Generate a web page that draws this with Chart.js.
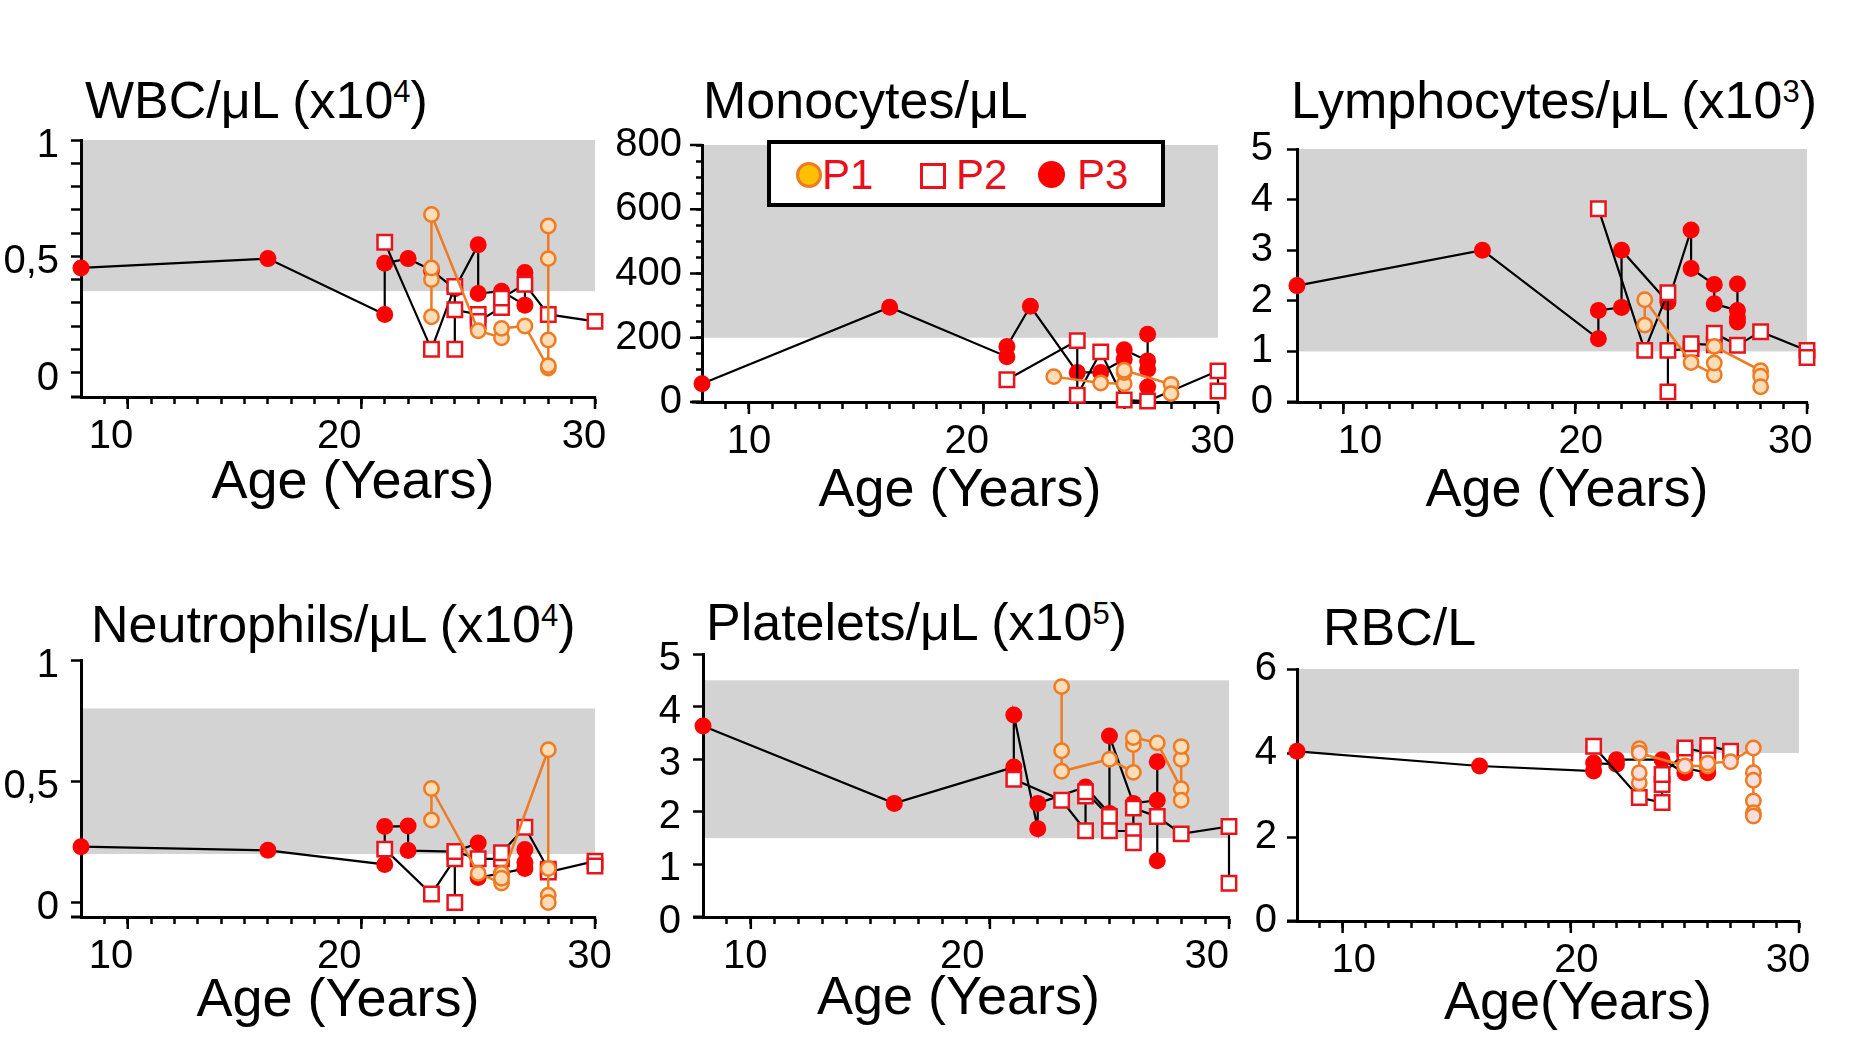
<!DOCTYPE html>
<html><head><meta charset="utf-8">
<script src="https://cdn.jsdelivr.net/npm/chart.js@4.4.0/dist/chart.umd.min.js"></script>
<style>
html,body{margin:0;padding:0;background:#fff;}
body{width:1857px;height:1047px;position:relative;overflow:hidden;font-family:'Liberation Sans',Arial,sans-serif;}
canvas{position:absolute;}
.ttl{position:absolute;font-size:52px;line-height:52px;color:#000;white-space:nowrap;}
.ttl .sp{font-size:31px;line-height:0;vertical-align:16px;}
#legend{position:absolute;left:767px;top:140px;width:398px;height:67px;box-sizing:border-box;border:4px solid #000;background:#fff;}
#legend .m{position:absolute;box-sizing:border-box;}
#legend .t{position:absolute;top:10px;font-size:42px;line-height:42px;color:#E8101A;}
</style></head><body>

<div class="ttl" style="left:85px;top:74px">WBC/μL (x10<span class="sp">4</span>)</div>
<div class="ttl" style="left:703px;top:74px">Monocytes/μL</div>
<div class="ttl" style="left:1291px;top:74px">Lymphocytes/μL (x10<span class="sp">3</span>)</div>
<div class="ttl" style="left:91px;top:598px">Neutrophils/μL (x10<span class="sp">4</span>)</div>
<div class="ttl" style="left:706px;top:596px">Platelets/μL (x10<span class="sp">5</span>)</div>
<div class="ttl" style="left:1323px;top:601px">RBC/L</div>

<canvas id="c1"></canvas><canvas id="c2"></canvas><canvas id="c3"></canvas>
<canvas id="c4"></canvas><canvas id="c5"></canvas><canvas id="c6"></canvas>

<div id="legend">
  <div class="m" style="left:25px;top:18px;width:26px;height:26px;border:3px solid #F07A22;background:#FFC000;border-radius:50%"></div>
  <div class="t" style="left:51px">P1</div>
  <div class="m" style="left:149px;top:19px;width:26px;height:26px;border:3px solid #E8141C;background:#fff"></div>
  <div class="t" style="left:185px">P2</div>
  <div class="m" style="left:267px;top:17px;width:27px;height:27px;background:#FF0000;border-radius:50%"></div>
  <div class="t" style="left:306px">P3</div>
</div>

<script>
// ---------- DATA ----------
const ageTicks = [9,10,11,12,13,14,15,16,17,18,19,20,21,22,23,24,25,26,27,28,29,30];
const ageLabels = ['','10','','','','','','','','','','20','','','','','','','','','','30'];

// WBC/uL (x10^4)
const wbcP1Age = [23,23,23,23,25,26,26,27,28,28,28,28,28];
const wbcP1    = [0.24,0.40,0.45,0.68,0.18,0.15,0.19,0.20,0.02,0.03,0.14,0.49,0.63];
const wbcP2Age = [21,23,24,24,24,25,25,26,26,27,28,30];
const wbcP2    = [0.56,0.10,0.37,0.10,0.27,0.25,0.22,0.28,0.32,0.38,0.25,0.22];
const wbcP3Age = [8,16,21,21,22,23,24,25,25,26,27,27];
const wbcP3    = [0.45,0.49,0.25,0.47,0.49,0.44,0.36,0.55,0.34,0.35,0.29,0.43];
const wbcRange = [0.35,1];
const wbcYTicks  = [0,0.1,0.2,0.3,0.4,0.5,0.6,0.7,0.8,0.9,1];
const wbcYLabels = ['0','','','','','0,5','','','','','1'];

// Monocytes/uL
const monoP1Age = [23,25,26,26,26,28,28];
const monoP1    = [79,59,57,92,99,55,26];
const monoP2Age = [21,24,24,25,26,27,30,30];
const monoP2    = [69,191,21,156,6,3,97,34];
const monoP3Age = [8,16,21,21,22,24,25,26,26,27,27,27,27];
const monoP3    = [57,295,141,173,298,92,92,133,163,128,211,102,47];
const monoRange = [200,800];
const monoYTicks  = [0,50,100,150,200,250,300,350,400,450,500,550,600,650,700,750,800];
const monoYLabels = ['0','','','','200','','','','400','','','','600','','','','800'];

// Lymphocytes/uL (x10^3)
const lymP1Age = [23,23,25,26,26,26,28,28,28];
const lymP1    = [1.52,2.02,0.78,0.54,0.77,1.10,0.62,0.51,0.30];
const lymP2Age = [21,23,24,24,24,25,25,26,26,27,28,30,30];
const lymP2    = [3.82,1.02,2.16,0.20,1.02,1.05,1.15,1.13,1.36,1.12,1.39,1.02,0.88];
const lymP3Age = [8,16,21,21,22,22,24,25,25,26,26,27,27,27,27];
const lymP3    = [2.30,3.00,1.25,1.81,1.87,3.00,1.97,3.40,2.64,2.32,1.94,1.81,1.58,1.66,2.33];
const lymRange = [1,5];
const lymYTicks  = [0,1,2,3,4,5];
const lymYLabels = ['0','1','2','3','4','5'];

// Neutrophils/uL (x10^4)
const neuP1Age = [23,23,25,26,26,26,28,28,28,28];
const neuP1    = [0.34,0.47,0.12,0.08,0.12,0.10,0.63,0.14,0.03,0.0];
const neuP2Age = [21,23,24,24,24,25,26,26,27,28,28,30,30];
const neuP2    = [0.22,0.035,0.18,0.0,0.21,0.18,0.18,0.205,0.31,0.137,0.125,0.17,0.15];
const neuP3Age = [8,16,21,21,22,22,24,25,25,26,27,27,27];
const neuP3    = [0.23,0.215,0.157,0.313,0.315,0.214,0.21,0.245,0.103,0.12,0.14,0.165,0.218];
const neuRange = [0.2,0.8];
const neuYTicks  = [0,0.5,1];
const neuYLabels = ['0','0,5','1'];

// Platelets/uL (x10^5)
const pltP1Age = [23,23,23,25,26,26,26,27,28,28,28,28];
const pltP1    = [4.38,3.16,2.77,3.00,2.75,3.28,3.41,3.31,2.44,2.22,3.00,3.24];
const pltP2Age = [21,23,24,24,24,25,25,26,26,26,27,28,30,30];
const pltP2    = [2.62,2.22,1.64,2.30,2.38,1.91,1.64,1.63,1.41,2.07,1.91,1.58,1.72,0.64];
const pltP3Age = [8,16,21,21,22,22,24,25,25,26,27,27,27];
const pltP3    = [3.63,2.16,2.85,3.84,1.68,2.16,2.47,1.97,3.44,2.16,2.22,2.95,1.07];
const pltRange = [1.5,4.5];
const pltYTicks  = [0,1,2,3,4,5];
const pltYLabels = ['0','1','2','3','4','5'];

// RBC/L
const rbcP1Age = [23,23,23,23,25,26,26,27,28,28,28,28,28,28];
const rbcP1    = [3.29,3.53,4.10,4.00,3.69,3.69,3.76,3.79,4.12,3.53,3.35,2.86,2.58,2.50];
const rbcP2Age = [21,23,24,24,24,25,25,26,26,27];
const rbcP2    = [4.16,2.94,2.82,3.25,3.49,4.00,4.12,4.00,4.18,4.04];
const rbcP3Age = [8,16,21,21,22,22,24,25,25,26,26];
const rbcP3    = [4.04,3.69,3.57,3.76,3.73,3.84,3.84,3.53,3.64,3.53,3.64];
const rbcRange = [4,6];
const rbcYTicks  = [0,2,4,6];
const rbcYLabels = ['0','2','4','6'];

// ---------- RENDERING ----------
Chart.defaults.font.family = "'Liberation Sans', Arial, sans-serif";
Chart.defaults.color = '#000';

const RED = '#FF0000', SQRED = '#E8141C', ORANGE = '#F07A22';

function pts(xs, ys){ return xs.map((x, i) => ({x: x, y: ys[i]})); }

const bandPlugin = {
  id: 'band',
  beforeDraw(chart, args, o){
    const {ctx, scales:{x, y}} = chart;
    const x0 = x.getPixelForValue(x.min), x1 = x.getPixelForValue(o.xEnd);
    const y0 = y.getPixelForValue(o.range[1]), y1 = y.getPixelForValue(o.range[0]);
    ctx.save(); ctx.fillStyle = '#D3D3D3'; ctx.fillRect(x0, y0, x1 - x0, y1 - y0); ctx.restore();
  }
};
const majorPlugin = {
  id: 'majorTicks',
  afterDraw(chart, args, o){
    const {ctx, scales:{x, y}, chartArea:a} = chart;
    ctx.save(); ctx.strokeStyle = '#000'; ctx.lineWidth = 2.5; ctx.beginPath();
    o.x.forEach(v => { const p = x.getPixelForValue(v); ctx.moveTo(p, a.bottom); ctx.lineTo(p, a.bottom + o.xLen); });
    (o.y || []).forEach(v => { const p = y.getPixelForValue(v); ctx.moveTo(a.left, p); ctx.lineTo(a.left - o.yLen, p); });
    ctx.stroke();
    ctx.lineWidth = 3; ctx.beginPath();
    ctx.moveTo(a.left - o.axisExt, a.bottom); ctx.lineTo(a.left, a.bottom); ctx.stroke();
    ctx.restore();
  }
};

// label nudge: number of spaces (negative = trailing, shifts left; positive = leading, shifts right)
function nudge(s, k){ return k < 0 ? s + ' '.repeat(-k) : ' '.repeat(k) + s; }

function makePanel(p){
  const cv = document.getElementById(p.id);
  const padTop = 32, padRight = 64;
  const w = p.W + (p.R - p.L) + padRight;
  const h = padTop + (p.B - p.T) + p.H;
  cv.width = w; cv.height = h;
  cv.style.left = (p.L - p.W) + 'px'; cv.style.top = (p.T - padTop) + 'px';
  cv.style.width = w + 'px'; cv.style.height = h + 'px';
  const common = {showLine: true, tension: 0, clip: false, fill: false};
  const datasets = [
    Object.assign({label: 'P1', data: pts(p.d[0], p.d[1]), borderColor: ORANGE, borderWidth: 2.5,
      pointStyle: 'circle', pointRadius: 7.2, pointBorderWidth: 2.5, pointBackgroundColor: p.p1fill, pointBorderColor: ORANGE}, common),
    Object.assign({label: 'P2', data: pts(p.d[2], p.d[3]), borderColor: '#000', borderWidth: 2.2,
      pointStyle: 'rect', pointRadius: 10.2, pointBorderWidth: 2.5, pointBackgroundColor: '#fff', pointBorderColor: SQRED}, common),
    Object.assign({label: 'P3', data: pts(p.d[4], p.d[5]), borderColor: '#000', borderWidth: 2.2,
      pointStyle: 'circle', pointRadius: 8.5, pointBorderWidth: 0, pointBackgroundColor: RED, pointBorderColor: RED}, common)
  ];
  new Chart(cv, {
    type: 'line',
    data: {datasets},
    plugins: [bandPlugin, majorPlugin],
    options: {
      responsive: false, animation: false, events: [], devicePixelRatio: 1,
      layout: {padding: {top: padTop, right: padRight, left: 0, bottom: 0}},
      plugins: {
        legend: {display: false}, tooltip: {enabled: false},
        band: {range: p.range, xEnd: 30},
        majorTicks: {x: [10, 20, 30], xLen: 12, y: p.yMajor, yLen: 12, axisExt: 10}
      },
      scales: {
        x: {
          type: 'linear', min: 8, max: 30,
          afterFit: s => { s.height = p.H; },
          afterBuildTicks: s => { s.ticks = ageTicks.map(v => ({value: v})); },
          ticks: {autoSkip: false, maxRotation: 0, padding: 9, font: {size: 40}, color: '#000',
                  callback: (v, i) => {
                    const s = ageLabels[i];
                    if (!s) return '';
                    const k = p.xNudge[Math.round(v / 10) - 1] || 0;
                    return nudge(s, k);
                  }},
          grid: {drawOnChartArea: false, drawTicks: true, tickLength: 7, tickWidth: 2.5, tickColor: '#000'},
          border: {display: true, color: '#000', width: 3},
          title: {display: true, text: nudge(p.xTitle, p.tNudge), font: {size: 54}, color: '#000', padding: 0}
        },
        y: {
          type: 'linear', min: p.ymin, max: p.ymax,
          afterFit: s => { s.width = p.W; },
          afterBuildTicks: s => { s.ticks = p.yTicks.map(v => ({value: v})); },
          ticks: {autoSkip: false, padding: p.yPad, labelOffset: p.yOff, font: {size: 40}, color: '#000',
                  callback: (v, i) => p.yLabels[i]},
          grid: {drawOnChartArea: false, drawTicks: true, tickLength: p.yTick, tickWidth: 2.5, tickColor: '#000'},
          border: {display: true, color: '#000', width: 3}
        }
      }
    }
  });
}

const PEACH = '#FDDCB8', PINK = '#F9DEDE';
makePanel({id:'c1', L:81, T:136, R:595, B:397, H:119, W:81, ymin:-0.105, ymax:1,
  yTicks: wbcYTicks, yLabels: wbcYLabels, yTick:10, yPad:12, yOff:6, yMajor:[], range: wbcRange,
  xNudge:[-3,-4,-2], tNudge:2,
  d:[wbcP1Age, wbcP1, wbcP2Age, wbcP2, wbcP3Age, wbcP3], p1fill: PEACH, xTitle:'Age (Years)'});
makePanel({id:'c2', L:702, T:139, R:1218, B:402, H:122, W:100, ymin:0, ymax:800,
  yTicks: monoYTicks, yLabels: monoYLabels, yTick:6, yPad:14, yOff:0, yMajor:[0,200,400,600,800], range: monoRange,
  xNudge:[0,-3,-1], tNudge:0,
  d:[monoP1Age, monoP1, monoP2Age, monoP2, monoP3Age, monoP3], p1fill: PEACH, xTitle:'Age (Years)'});
makePanel({id:'c3', L:1297, T:143, R:1807, B:402, H:122, W:100, ymin:0, ymax:5,
  yTicks: lymYTicks, yLabels: lymYLabels, yTick:10, yPad:14, yOff:0, yMajor:[], range: lymRange,
  xNudge:[3,1,-3], tNudge:2,
  d:[lymP1Age, lymP1, lymP2Age, lymP2, lymP3Age, lymP3], p1fill: PEACH, xTitle:'Age (Years)'});
makePanel({id:'c4', L:81, T:656, R:595, B:917, H:117, W:81, ymin:-0.06, ymax:1,
  yTicks: neuYTicks, yLabels: neuYLabels, yTick:10, yPad:12, yOff:6, yMajor:[], range: neuRange,
  xNudge:[-3,-4,-1], tNudge:0,
  d:[neuP1Age, neuP1, neuP2Age, neuP2, neuP3Age, neuP3], p1fill: PEACH, xTitle:'Age (Years)'});
makePanel({id:'c5', L:703, T:650, R:1229, B:917, H:115, W:100, ymin:0, ymax:5,
  yTicks: pltYTicks, yLabels: pltYLabels, yTick:10, yPad:12, yOff:5, yMajor:[], range: pltRange,
  xNudge:[-1,-5,-4], tNudge:-1,
  d:[pltP1Age, pltP1, pltP2Age, pltP2, pltP3Age, pltP3], p1fill: PEACH, xTitle:'Age (Years)'});
makePanel({id:'c6', L:1297, T:667, R:1799, B:921, H:116, W:100, ymin:0, ymax:6,
  yTicks: rbcYTicks, yLabels: rbcYLabels, yTick:10, yPad:10, yOff:0, yMajor:[], range: rbcRange,
  xNudge:[2,1,-2], tNudge:4,
  d:[rbcP1Age, rbcP1, rbcP2Age, rbcP2, rbcP3Age, rbcP3], p1fill: PINK, xTitle:'Age(Years)'});
</script>
</body></html>
